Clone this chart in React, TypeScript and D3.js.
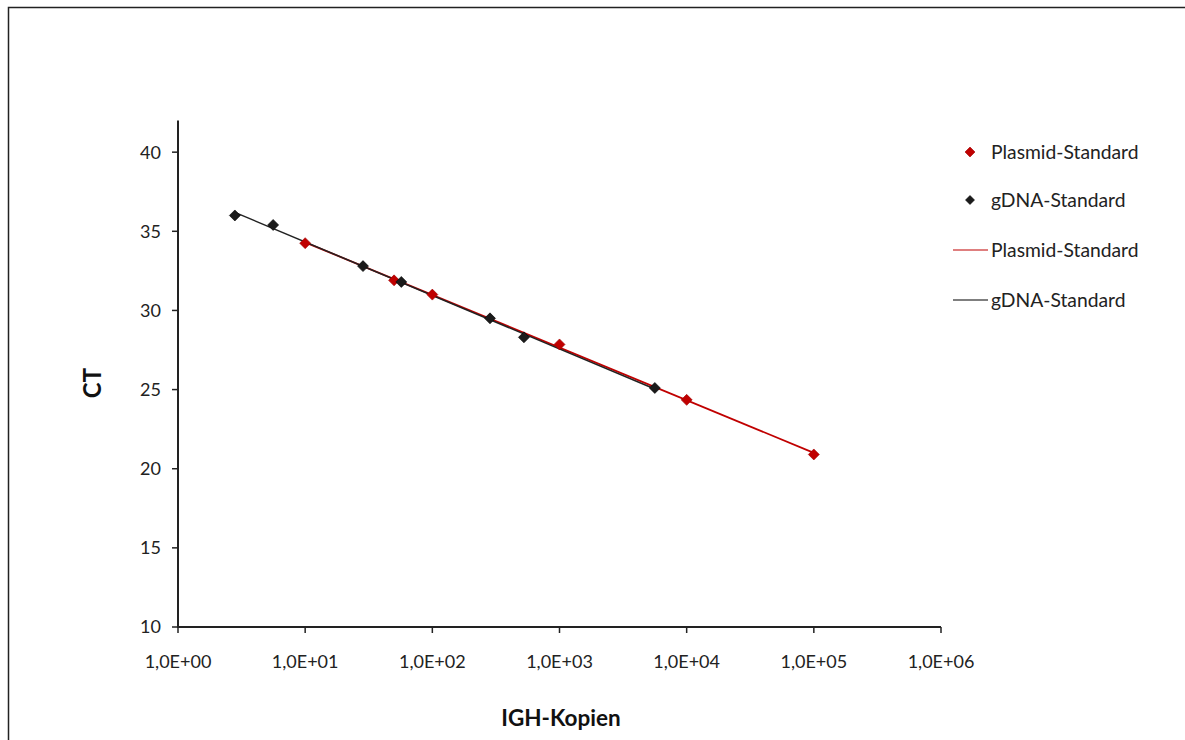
import React from "react";
import * as d3 from "d3";

const W = 1185;
const H = 740;

// Plasmid-Standard (copies, CT)
const plasmidCopies = [10, 50, 100, 1000, 10000, 100000];
const plasmidCT = [34.25, 31.9, 31.0, 27.85, 24.35, 20.9];

// gDNA-Standard (copies, CT)
const gdnaCopies = [2.8, 5.6, 28.5, 57, 284, 525, 5620];
const gdnaCT = [36.0, 35.4, 32.8, 31.8, 29.5, 28.3, 25.1];

const xTickValues = [1, 10, 100, 1000, 10000, 100000, 1000000];
const xTickLabels = ["1,0E+00", "1,0E+01", "1,0E+02", "1,0E+03", "1,0E+04", "1,0E+05", "1,0E+06"];
const yTickValues = [10, 15, 20, 25, 30, 35, 40];

const legendLabels = ["Plasmid-Standard", "gDNA-Standard", "Plasmid-Standard", "gDNA-Standard"];

const RED = "#c00000";
const BLACK = "#1a1a1a";
const FONT = "Lato, 'Open Sans', 'Liberation Sans', sans-serif";

function fitLog(xs: number[], ys: number[]) {
  const lx = xs.map((v) => Math.log10(v));
  const mx = d3.mean(lx) as number;
  const my = d3.mean(ys) as number;
  let num = 0;
  let den = 0;
  lx.forEach((v, i) => {
    num += (v - mx) * (ys[i] - my);
    den += (v - mx) * (v - mx);
  });
  const slope = num / den;
  const icpt = my - slope * mx;
  return (x: number) => icpt + slope * Math.log10(x);
}

function Diamond({ cx, cy, fill, size = 5.5 }: { cx: number; cy: number; fill: string; size?: number }) {
  const d = `M${cx},${cy - size}L${cx + size},${cy}L${cx},${cy + size}L${cx - size},${cy}Z`;
  return <path d={d} fill={fill} stroke={fill === RED ? "#a00000" : "#000"} strokeWidth={0.6} />;
}

export default function App() {
  const x = d3.scaleLog().domain([1, 1e6]).range([178, 941]);
  const y = d3.scaleLinear().domain([10, 42]).range([627, 120.5]);

  const fitP = fitLog(plasmidCopies, plasmidCT);
  const fitG = fitLog(gdnaCopies, gdnaCT);
  const pExt = d3.extent(plasmidCopies) as [number, number];
  const gExt = d3.extent(gdnaCopies) as [number, number];

  const legendY = [152, 200, 250, 300];

  return (
    <svg
      width={W}
      height={H}
      style={{ position: "absolute", left: 0, top: 0, background: "#fff" }}
      fontFamily={FONT}
    >
      <rect x={0} y={0} width={W} height={H} fill="#fff" />
      <rect x={8.5} y={7.5} width={W + 20} height={H + 20} fill="none" stroke="#222" strokeWidth={1.5} />

      {/* axes */}
      <line x1={178} x2={178} y1={y(42)} y2={y(10)} stroke="#222" strokeWidth={2} />
      <line x1={177} x2={x(1e6)} y1={627} y2={627} stroke="#222" strokeWidth={2} />

      {yTickValues.map((v) => (
        <g key={"y" + v}>
          <line x1={172} x2={178} y1={y(v)} y2={y(v)} stroke="#222" strokeWidth={1.5} />
          <text x={161} y={y(v)} dy="0.36em" textAnchor="end" fontSize={18} fill="#222">
            {v}
          </text>
        </g>
      ))}

      {xTickValues.map((v, i) => (
        <g key={"x" + v}>
          <line x1={x(v)} x2={x(v)} y1={627} y2={633} stroke="#222" strokeWidth={1.5} />
          <text x={x(v)} y={668} textAnchor="middle" fontSize={18} fill="#222">
            {xTickLabels[i]}
          </text>
        </g>
      ))}

      <text
        transform={`translate(101,383) rotate(-90)`}
        textAnchor="middle"
        fontSize={24}
        fontWeight="bold"
        fill="#111"
      >
        CT
      </text>
      <text x={561} y={726} textAnchor="middle" fontSize={22.5} fontWeight="bold" fill="#111">
        IGH-Kopien
      </text>

      {/* trendlines */}
      <line x1={x(pExt[0])} x2={x(pExt[1])} y1={y(fitP(pExt[0]))} y2={y(fitP(pExt[1]))} stroke={RED} strokeWidth={1.8} />
      <line x1={x(gExt[0])} x2={x(gExt[1])} y1={y(fitG(gExt[0]))} y2={y(fitG(gExt[1]))} stroke="#222" strokeWidth={1.5} />

      {/* points */}
      {plasmidCopies.map((c, i) => (
        <Diamond key={"p" + i} cx={x(c)} cy={y(plasmidCT[i])} fill={RED} />
      ))}
      {gdnaCopies.map((c, i) => (
        <Diamond key={"g" + i} cx={x(c)} cy={y(gdnaCT[i])} fill={BLACK} />
      ))}

      {/* legend */}
      <Diamond cx={970} cy={legendY[0]} fill={RED} size={5} />
      <Diamond cx={970} cy={legendY[1]} fill={BLACK} size={4.5} />
      <line x1={953} x2={988} y1={legendY[2]} y2={legendY[2]} stroke={RED} strokeWidth={1.2} />
      <line x1={953} x2={988} y1={legendY[3]} y2={legendY[3]} stroke="#555" strokeWidth={1.5} />
      {legendLabels.map((l, i) => (
        <text key={"l" + i} x={991} y={legendY[i]} dy="0.36em" fontSize={19.3} fill="#222">
          {l}
        </text>
      ))}
    </svg>
  );
}
